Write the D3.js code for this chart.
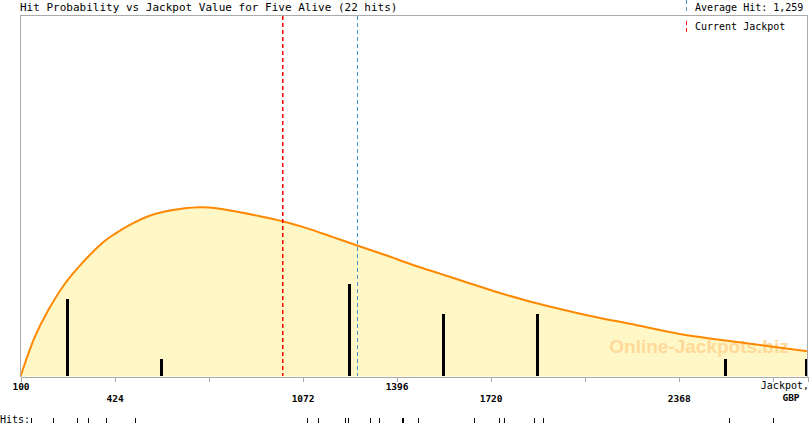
<!DOCTYPE html>
<html><head><meta charset="utf-8">
<script src="https://cdn.jsdelivr.net/npm/d3@7"></script>
<style>body{margin:0;background:#fff}svg{display:block}</style>
</head><body>
<script>
const title = "Hit Probability vs Jackpot Value for Five Alive (22 hits)";
const averageHit = 1259;
const currentJackpot = 1000;
const tickValues = [100, 424, 748, 1072, 1396, 1720, 2044, 2368, 2692];
const tickLabels = ["100", "424", "", "1072", "1396", "1720", "", "2368", ""];
const binCenters = [262, 586, 910, 1234, 1558, 1882, 2206, 2530, 2854];
const binCounts = [5, 1, 0, 6, 4, 4, 0, 1, 1];
const hits = [136, 212, 293, 333, 393, 495, 1087, 1124, 1219, 1227, 1304, 1334, 1414, 1419, 1470, 1663, 1748, 1767, 1870, 1901, 2542, 2694];
const curveX = [100, 149, 195, 253, 310, 379, 425, 483, 540, 597, 655, 718, 787, 856, 925, 1003, 1086, 1177, 1260, 1362, 1453, 1545, 1626, 1741, 1855, 1970, 2085, 2200, 2372, 2602, 2812];
const curveY = [0, 10.9, 18.3, 25.7, 31.2, 36.8, 39.5, 42.3, 44.4, 45.7, 46.5, 46.9, 46.5, 45.5, 44.4, 43.0, 41.1, 38.6, 36.3, 33.5, 30.9, 28.5, 26.4, 23.4, 20.8, 18.5, 16.4, 14.6, 11.8, 9.2, 7.0];

const W = 810, H = 425;
const L = 20.5, R = 807.5, T = 15.5, B = 376.5;
const svg = d3.select("body").append("svg").attr("width", W).attr("height", H);
const mono = "'DejaVu Sans Mono', monospace";

const x = d3.scaleLinear().domain([100, 2812]).range([L, R]);
const yc = d3.scaleLinear().domain([0, 100]).range([B, T]);
const yh = d3.scaleLinear().domain([0, 24]).range([374, 14]);
const crv = d3.curveCatmullRom.alpha(0.5);

const pts = curveX.map((v, i) => [v, curveY[i]]);
svg.append("path").datum(pts)
  .attr("d", d3.area().x(d => x(d[0])).y0(B).y1(d => yc(d[1])).curve(crv))
  .attr("fill", "#fff8c6");

svg.append("text").attr("x", 699).attr("y", 353).attr("text-anchor", "middle")
  .attr("font-family", "'Liberation Sans', Arial, sans-serif").attr("font-weight", "bold")
  .attr("font-size", 19).attr("fill", "#ffd99a").text("Online-Jackpots.biz");

const bins = binCenters.map((c, i) => ({c, n: binCounts[i]})).filter(d => d.n > 0);
svg.selectAll("rect.bar").data(bins).enter().append("rect").attr("class", "bar")
  .attr("x", d => Math.round(Math.min(x(d.c), R - 1.5) - 1.5))
  .attr("y", d => yh(d.n))
  .attr("width", 3)
  .attr("height", d => B - 0.5 - yh(d.n))
  .attr("fill", "#000");

svg.append("path").datum(pts)
  .attr("d", d3.line().x(d => x(d[0])).y(d => yc(d[1])).curve(crv))
  .attr("fill", "none").attr("stroke", "#ff8800").attr("stroke-width", 2);

function vdash(px, y0, y1, color, w) {
  svg.append("g").selectAll("rect").data(d3.range(y0, y1, 7)).enter().append("rect")
    .attr("x", px).attr("y", d => d).attr("width", w || 1)
    .attr("height", d => Math.min(4, y1 - d)).attr("fill", color);
}
vdash(Math.round(x(currentJackpot)), 16, 376, "#ff0000", 1.5);
vdash(Math.round(x(averageHit)), 16, 376, "#3d95cc", 1);

svg.append("path").attr("d", `M${L},${B}V${T}H${R}V${B}`).attr("fill", "none").attr("stroke", "#aaa")
  .attr("shape-rendering", "crispEdges");

const axis = d3.axisBottom(x).tickValues(tickValues).tickSize(5).tickFormat("");
const gA = svg.append("g").attr("transform", `translate(0,${B})`).call(axis);
gA.select(".domain").attr("stroke", "#aaa").attr("shape-rendering", "crispEdges");
gA.selectAll(".tick line").attr("stroke", "#aaa").attr("shape-rendering", "crispEdges");
gA.selectAll(".tick").each(function(d, i) {
  if (!tickLabels[i]) return;
  d3.select(this).append("text").attr("y", i % 2 === 0 ? 13 : 25)
    .attr("text-anchor", "middle").attr("fill", "#000")
    .attr("font-family", mono).attr("font-size", 9.5).attr("font-weight", "bold")
    .text(tickLabels[i]);
});
svg.append("text").attr("x", 809).attr("y", 389).attr("text-anchor", "end")
  .attr("font-family", mono).attr("font-size", 10).text("Jackpot,");
svg.append("text").attr("x", 791).attr("y", 401).attr("text-anchor", "middle")
  .attr("font-family", mono).attr("font-size", 9.5).attr("font-weight", "bold").text("GBP");

svg.append("text").attr("x", 20).attr("y", 11).attr("font-family", mono).attr("font-size", 11).text(title);

vdash(686, 0, 13, "#3d95cc");
svg.append("text").attr("x", 695).attr("y", 11).attr("font-family", mono).attr("font-size", 10)
  .text("Average Hit: " + d3.format(",")(averageHit));
vdash(686, 21, 34, "#ff0000");
svg.append("text").attr("x", 695).attr("y", 30).attr("font-family", mono).attr("font-size", 10)
  .text("Current Jackpot");

svg.append("text").attr("x", 0).attr("y", 423).attr("font-family", mono).attr("font-size", 10).text("Hits:");
svg.selectAll("line.hit").data(hits).enter().append("line").attr("class", "hit")
  .attr("x1", d => Math.round(x(d)) + 0.5).attr("x2", d => Math.round(x(d)) + 0.5)
  .attr("y1", 418).attr("y2", 423).attr("stroke", "#000").attr("shape-rendering", "crispEdges");
</script>
</body></html>
